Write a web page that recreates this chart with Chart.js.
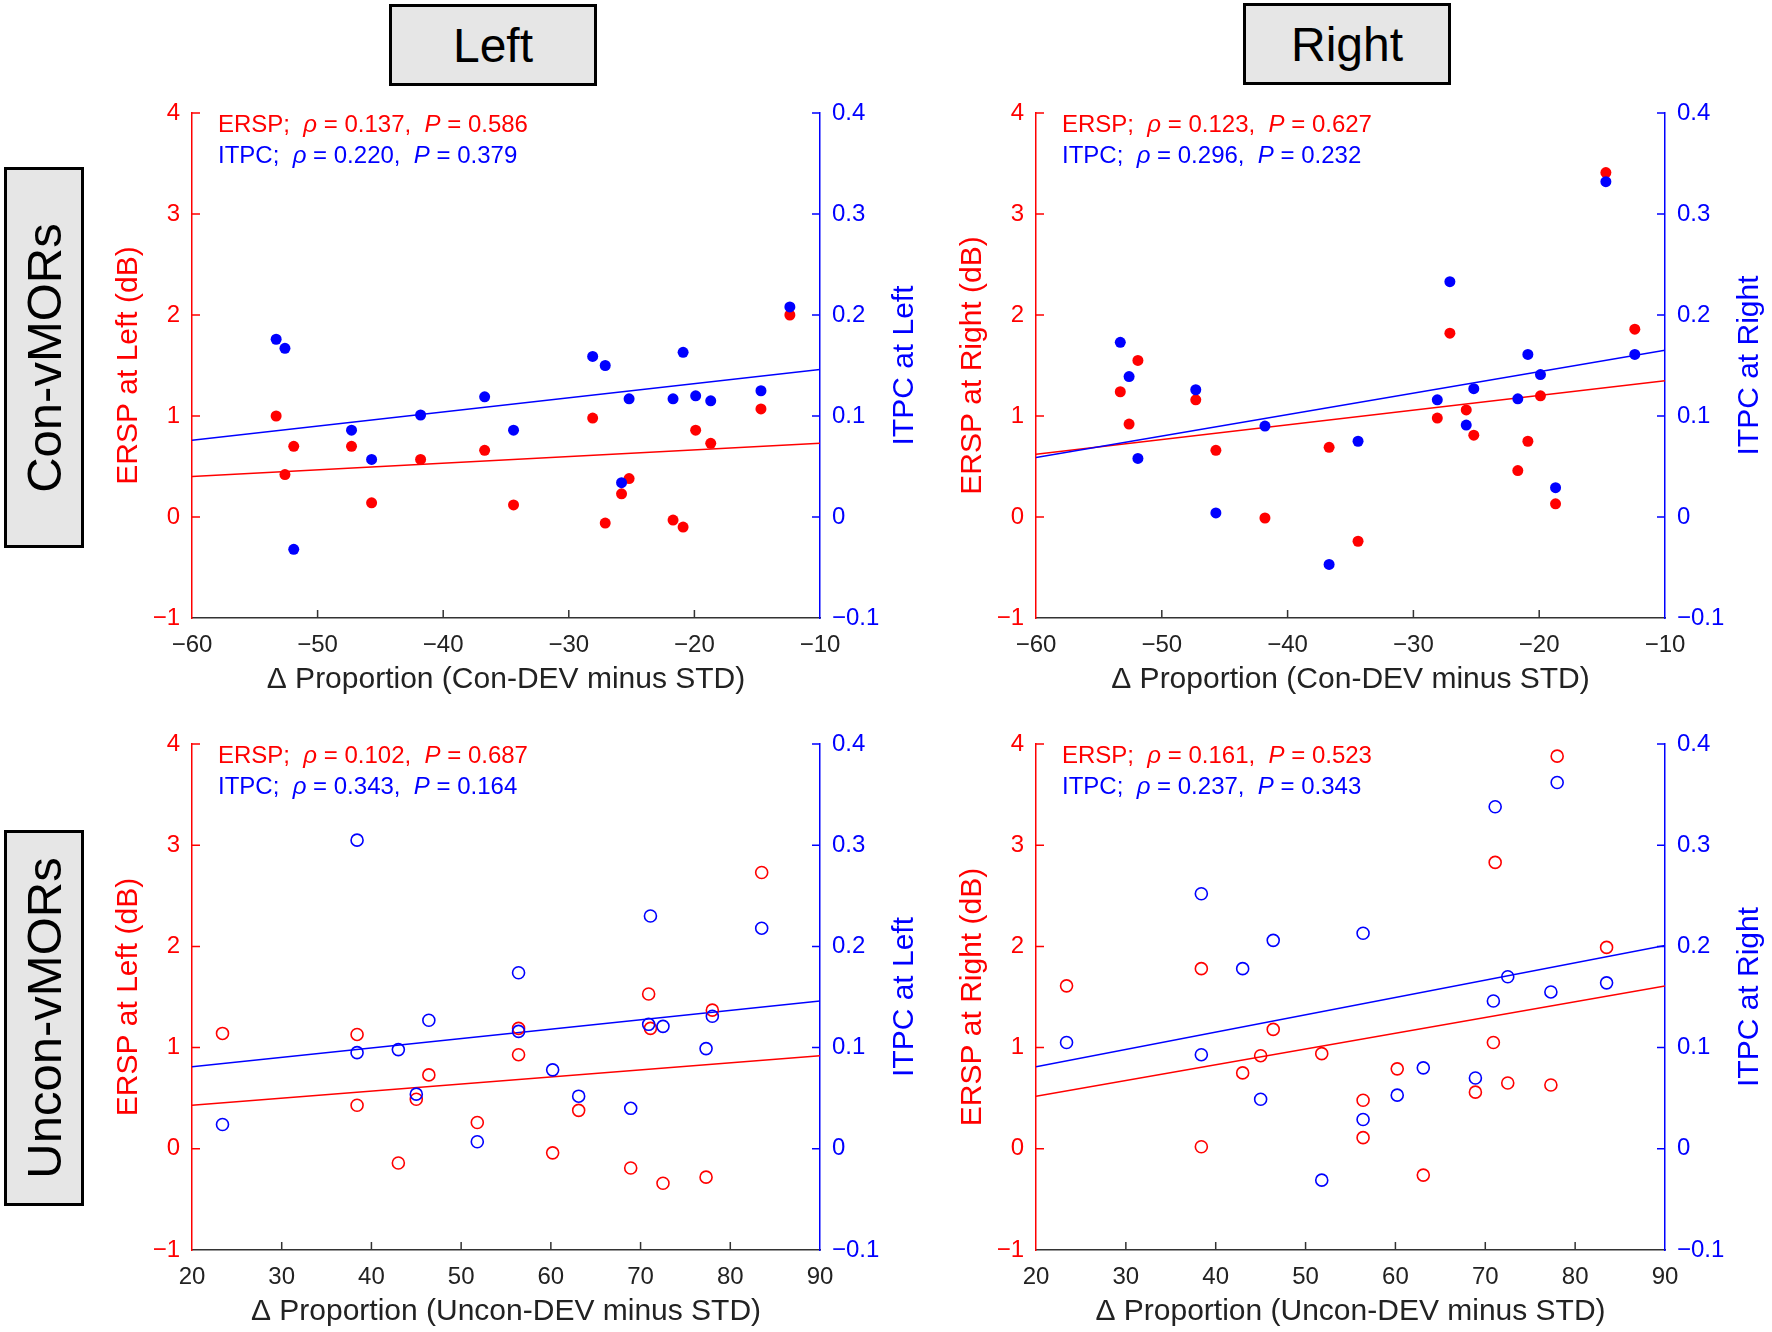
<!DOCTYPE html>
<html>
<head>
<meta charset="utf-8">
<script src="https://cdn.jsdelivr.net/npm/chart.js@4.4.1/dist/chart.umd.min.js"></script>
<style>
  body { margin: 0; width: 1772px; height: 1332px; position: relative; overflow: hidden; background: #fff;
         font-family: "Liberation Sans", Arial, sans-serif; }
  .box { position: absolute; box-sizing: border-box; border: 3px solid #000; background: #e6e6e6;
         display: flex; align-items: center; justify-content: center; font-size: 48px; color: #000; }
  .box .rot { display: block; white-space: nowrap; transform: rotate(-90deg); font-size: 49px; }
  canvas { position: absolute; }
</style>
</head>
<body>
<div class="box" style="left:389px;top:4px;width:208px;height:82px">Left</div>
<div class="box" style="left:1243px;top:3px;width:208px;height:82px">Right</div>
<div class="box" style="left:4px;top:167px;width:80px;height:381px"><span class="rot">Con-vMORs</span></div>
<div class="box" style="left:4px;top:830px;width:80px;height:376px"><span class="rot">Uncon-vMORs</span></div>

<canvas id="p1" width="840" height="605" style="left:90px;top:95px"></canvas>
<canvas id="p2" width="838" height="605" style="left:934px;top:95px"></canvas>
<canvas id="p3" width="840" height="606" style="left:90px;top:726px"></canvas>
<canvas id="p4" width="838" height="606" style="left:934px;top:726px"></canvas>

<script>
// x values (Δ proportion) per subject
const conX = [-53.3, -52.6, -51.9, -47.3, -45.7, -41.8, -36.7, -34.4, -28.1, -27.1, -25.8, -25.2, -21.7, -20.9, -19.9, -18.7, -14.7, -12.4];
const unconX = [23.4, 38.4, 38.4, 43.0, 45.0, 46.4, 51.8, 56.4, 56.4, 60.2, 63.1, 68.9, 70.9, 71.1, 72.5, 77.3, 78.0, 83.5];

// Con-vMORs, Left
const conLeftErsp = [1.0, 0.42, 0.70, 0.70, 0.14, 0.57, 0.66, 0.12, 0.98, -0.06, 0.23, 0.38, -0.03, -0.10, 0.86, 0.73, 1.07, 2.0];
const conLeftItpc = [0.176, 0.167, -0.032, 0.086, 0.057, 0.101, 0.119, 0.086, 0.159, 0.150, 0.034, 0.117, 0.117, 0.163, 0.120, 0.115, 0.125, 0.208];
// Con-vMORs, Right
const conRightErsp = [1.24, 0.92, 1.55, 1.16, 0.66, -0.01, 0.69, -0.24, 0.98, 1.82, 1.06, 0.81, 0.46, 0.75, 1.20, 0.13, 3.41, 1.86];
const conRightItpc = [0.173, 0.139, 0.058, 0.126, 0.004, 0.090, -0.047, 0.075, 0.116, 0.233, 0.091, 0.127, 0.117, 0.161, 0.141, 0.029, 0.332, 0.161];
// Uncon-vMORs, Left
const unconLeftErsp = [1.14, 1.13, 0.43, -0.14, 0.49, 0.73, 0.26, 1.19, 0.93, -0.04, 0.38, -0.19, 1.53, 1.19, -0.34, -0.28, 1.37, 2.73];
const unconLeftItpc = [0.024, 0.305, 0.095, 0.098, 0.054, 0.127, 0.007, 0.174, 0.116, 0.078, 0.052, 0.040, 0.123, 0.230, 0.121, 0.099, 0.131, 0.218];
// Uncon-vMORs, Right
const unconRightErsp = [1.61, 1.78, 0.02, 0.75, 0.92, 1.18, 0.94, 0.48, 0.11, 0.79, -0.26, 0.56, 1.05, 2.83, 0.65, 0.63, 3.88, 1.99];
const unconRightItpc = [0.105, 0.252, 0.093, 0.178, 0.049, 0.206, -0.031, 0.213, 0.029, 0.053, 0.080, 0.070, 0.146, 0.338, 0.170, 0.155, 0.362, 0.164];

// regression line values at the two ends of the x range
const conLeftErspFit = [0.40, 0.73];
const conLeftItpcFit = [0.076, 0.146];
const conRightErspFit = [0.62, 1.35];
const conRightItpcFit = [0.059, 0.165];
const unconLeftErspFit = [0.43, 0.92];
const unconLeftItpcFit = [0.081, 0.146];
const unconRightErspFit = [0.52, 1.61];
const unconRightItpcFit = [0.081, 0.201];

// correlation text: [rho, P]
const conLeftStats = [['0.137', '0.586'], ['0.220', '0.379']];
const conRightStats = [['0.123', '0.627'], ['0.296', '0.232']];
const unconLeftStats = [['0.102', '0.687'], ['0.343', '0.164']];
const unconRightStats = [['0.161', '0.523'], ['0.237', '0.343']];

// ticks
const conXTicks = [-60, -50, -40, -30, -20, -10];
const unconXTicks = [20, 30, 40, 50, 60, 70, 80, 90];
const erspTicks = [-1, 0, 1, 2, 3, 4];
const itpcTicks = [-0.1, 0, 0.1, 0.2, 0.3, 0.4];

const FONT = '"Liberation Sans", Arial, sans-serif';
const RED = '#ff0000';
const BLUE = '#0000ff';
const AXIS = '#333333';

const minus = s => String(s).replace('-', '\u2212');

// keep the plot box where it is; labels may hang into the margins
const noPad = s => { s.paddingTop = 0; s.paddingBottom = 0; s.paddingLeft = 0; s.paddingRight = 0; };

// inward ticks, right-hand title and the correlation text
const decor = {
    id: 'decor',
    afterDraw(chart, args, o) {
        const { ctx, chartArea: a, scales } = chart;
        ctx.save();
        ctx.lineWidth = 1.5;

        ctx.strokeStyle = AXIS;
        ctx.beginPath();
        scales.x.ticks.forEach((t, i, arr) => {
            if (i === 0 || i === arr.length - 1) return;
            const px = scales.x.getPixelForValue(t.value);
            ctx.moveTo(px, a.bottom);
            ctx.lineTo(px, a.bottom - 8);
        });
        ctx.stroke();

        ctx.strokeStyle = RED;
        ctx.beginPath();
        scales.y.ticks.forEach((t, i) => {
            if (i === 0) return;
            const py = scales.y.getPixelForValue(t.value);
            ctx.moveTo(a.left, py);
            ctx.lineTo(a.left + 8, py);
        });
        ctx.stroke();

        ctx.strokeStyle = BLUE;
        ctx.beginPath();
        scales.y2.ticks.forEach((t, i) => {
            if (i === 0) return;
            const py = scales.y2.getPixelForValue(t.value);
            ctx.moveTo(a.right, py);
            ctx.lineTo(a.right - 8, py);
        });
        ctx.stroke();

        // right axis title, reading bottom to top like the left one
        ctx.save();
        ctx.translate(a.right + 85, (a.top + a.bottom) / 2);
        ctx.rotate(-Math.PI / 2);
        ctx.fillStyle = BLUE;
        ctx.font = '30px ' + FONT;
        ctx.textAlign = 'center';
        ctx.textBaseline = 'middle';
        ctx.fillText(o.rightTitle, 0, 0);
        ctx.restore();

        // stats lines
        const lines = [['ERSP;  ', o.stats[0], RED, 19], ['ITPC;  ', o.stats[1], BLUE, 50]];
        ctx.textAlign = 'left';
        ctx.textBaseline = 'alphabetic';
        lines.forEach(([name, st, color, dy]) => {
            const parts = [[name, false], ['\u03c1', true], [' = ' + st[0] + ',  ', false], ['P', true], [' = ' + st[1], false]];
            let cx = a.left + 26;
            ctx.fillStyle = color;
            parts.forEach(([txt, it]) => {
                ctx.font = (it ? 'italic ' : '') + '24px ' + FONT;
                ctx.fillText(txt, cx, a.top + dy);
                cx += ctx.measureText(txt).width;
            });
        });

        ctx.restore();
    }
};

function makePanel(id, xs, ersp, itpc, erspFit, itpcFit, xTicks, side, stats, filled, xTitle) {
    const x0 = xTicks[0];
    const x1 = xTicks[xTicks.length - 1];
    const pointStyle = color => ({
        showLine: false,
        pointRadius: filled ? 5.5 : 6,
        pointBackgroundColor: filled ? color : 'rgba(0,0,0,0)',
        pointBorderColor: color,
        pointBorderWidth: filled ? 0 : 1.6,
        pointHoverRadius: filled ? 5.5 : 6
    });

    new Chart(document.getElementById(id), {
        type: 'scatter',
        data: {
            datasets: [
                Object.assign({ label: 'ITPC', yAxisID: 'y2', order: 0,
                    data: xs.map((x, i) => ({ x: x, y: itpc[i] })) }, pointStyle(BLUE)),
                Object.assign({ label: 'ERSP', yAxisID: 'y', order: 1,
                    data: xs.map((x, i) => ({ x: x, y: ersp[i] })) }, pointStyle(RED)),
                { label: 'ITPC fit', yAxisID: 'y2', order: 2, showLine: true, pointRadius: 0,
                  borderColor: BLUE, borderWidth: 1.5,
                  data: [{ x: x0, y: itpcFit[0] }, { x: x1, y: itpcFit[1] }] },
                { label: 'ERSP fit', yAxisID: 'y', order: 3, showLine: true, pointRadius: 0,
                  borderColor: RED, borderWidth: 1.5,
                  data: [{ x: x0, y: erspFit[0] }, { x: x1, y: erspFit[1] }] }
            ]
        },
        options: {
            responsive: false,
            animation: false,
            layout: { padding: { top: 18, left: 0, right: 0, bottom: 0 } },
            plugins: {
                legend: { display: false },
                tooltip: { enabled: false },
                decor: { rightTitle: 'ITPC at ' + side, stats: stats }
            },
            scales: {
                x: {
                    type: 'linear', min: x0, max: x1,
                    afterBuildTicks: s => { s.ticks = xTicks.map(v => ({ value: v })); },
                    afterFit: s => { s.height = 82; noPad(s); },
                    grid: { display: false, drawTicks: false },
                    border: { display: true, color: AXIS, width: 1.5 },
                    ticks: { color: '#222', padding: 13, maxRotation: 0, autoSkip: false,
                             font: { size: 24, family: FONT }, callback: v => minus(v) },
                    title: { display: true, text: xTitle, color: '#222',
                             font: { size: 30, family: FONT }, padding: { top: 0, bottom: 2 } }
                },
                y: {
                    type: 'linear', position: 'left', min: -1, max: 4,
                    afterBuildTicks: s => { s.ticks = erspTicks.map(v => ({ value: v })); },
                    afterFit: s => { s.width = 102; noPad(s); },
                    grid: { display: false, drawTicks: false },
                    border: { display: true, color: RED, width: 1.5 },
                    ticks: { color: RED, padding: 12, font: { size: 24, family: FONT }, callback: v => minus(v) },
                    title: { display: true, text: 'ERSP at ' + side + ' (dB)', color: RED,
                             font: { size: 30, family: FONT }, padding: { top: 21, bottom: 0 } }
                },
                y2: {
                    type: 'linear', position: 'right', min: -0.1, max: 0.4,
                    afterBuildTicks: s => { s.ticks = itpcTicks.map(v => ({ value: v })); },
                    afterFit: s => { s.width = side === 'Left' ? 110 : 107; noPad(s); },
                    grid: { display: false, drawTicks: false },
                    border: { display: true, color: BLUE, width: 1.5 },
                    ticks: { color: BLUE, padding: 12, font: { size: 24, family: FONT },
                             callback: v => (v === 0 ? '0' : minus(v.toFixed(1))) }
                }
            }
        },
        plugins: [decor]
    });
}

makePanel('p1', conX, conLeftErsp, conLeftItpc, conLeftErspFit, conLeftItpcFit, conXTicks, 'Left', conLeftStats, true,
          '\u0394 Proportion (Con-DEV minus STD)');
makePanel('p2', conX, conRightErsp, conRightItpc, conRightErspFit, conRightItpcFit, conXTicks, 'Right', conRightStats, true,
          '\u0394 Proportion (Con-DEV minus STD)');
makePanel('p3', unconX, unconLeftErsp, unconLeftItpc, unconLeftErspFit, unconLeftItpcFit, unconXTicks, 'Left', unconLeftStats, false,
          '\u0394 Proportion (Uncon-DEV minus STD)');
makePanel('p4', unconX, unconRightErsp, unconRightItpc, unconRightErspFit, unconRightItpcFit, unconXTicks, 'Right', unconRightStats, false,
          '\u0394 Proportion (Uncon-DEV minus STD)');
</script>
</body>
</html>
